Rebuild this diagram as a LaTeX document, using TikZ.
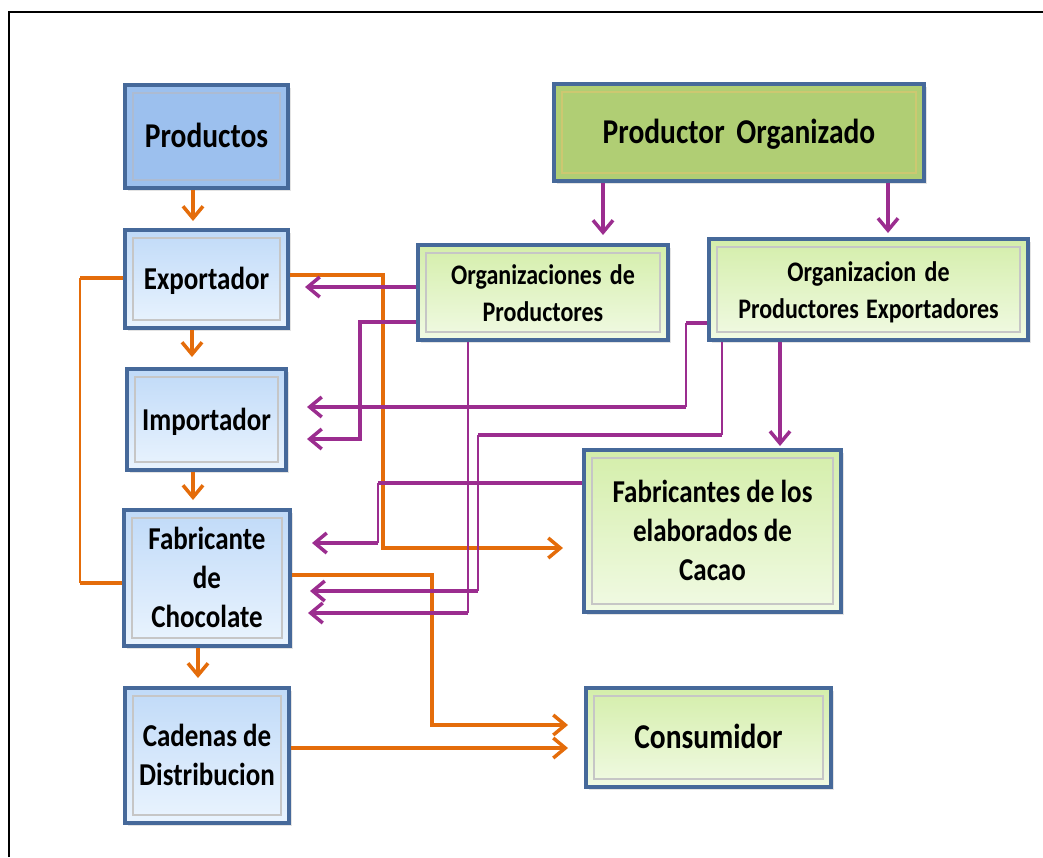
\documentclass[tikz,border=0pt]{standalone}
\usepackage{fontspec}
\setmainfont{Carlito}
\usepackage{graphicx}
\usetikzlibrary{arrows.meta,shadows}

\definecolor{naranja}{HTML}{E46C0A}
\definecolor{morado}{HTML}{9B2D8F}
\definecolor{borde}{HTML}{46699A}
\definecolor{azulprod}{HTML}{9CC0EE}
\definecolor{azulA}{HTML}{C0DAF8}
\definecolor{azulB}{HTML}{EAF4FE}
\definecolor{verdeprod}{HTML}{B0CE74}
\definecolor{verdeA}{HTML}{D4EEAA}
\definecolor{verdeB}{HTML}{F1FAE4}

\newcommand{\fgrande}{\fontsize{29.5}{34}\selectfont\bfseries}
\newcommand{\fmedia}{\fontsize{27}{33}\selectfont\bfseries}
\newcommand{\fchica}{\fontsize{24}{31.5}\selectfont\bfseries}
\newcommand{\estirar}[1]{\raisebox{-3pt}[\height][\depth]{\scalebox{1}[1.18]{\begin{tabular}{@{}c@{}}#1\end{tabular}}}}

\tikzset{
  caja/.style={draw=borde, line width=4pt, inner sep=0pt, align=center,
    drop shadow={opacity=0.22, shadow xshift=3pt, shadow yshift=-3pt},
    path picture={\draw[#1, line width=1.6pt]
      ([shift={(8pt,-8pt)}]path picture bounding box.north west) rectangle
      ([shift={(-8pt,8pt)}]path picture bounding box.south east);}},
  cajaprod/.style={caja=borde!45, fill=azulprod},
  cajaazul/.style={caja=gray!45, top color=azulA, bottom color=azulB},
  cajaporg/.style={caja=olive!45, fill=verdeprod},
  cajaverde/.style={caja=gray!45, top color=verdeA, bottom color=verdeB},
  olin/.style={draw=naranja, line width=3.5pt},
  oarr/.style={olin, -{Straight Barb[length=12pt,width=20pt]}},
  plin/.style={draw=morado, line width=3.5pt},
  pthin/.style={draw=morado, line width=1.6pt},
  parr/.style={plin, -{Straight Barb[length=12pt,width=20pt]}}
}

\begin{document}
\begin{tikzpicture}[x=1pt, y=-1pt]
\useasboundingbox (0,0) rectangle (1043,857);
% marco
\draw[line width=2pt] (9,857) -- (9,12) -- (1043,12);

% cadena de la izquierda
\node[cajaprod, minimum width=163pt, minimum height=103pt, font=\fgrande] (prod) at (206.5,136.5) {\estirar{Productos}};
\node[cajaazul, minimum width=163pt, minimum height=98pt, font=\fmedia] (expo) at (206.5,279) {\estirar{Exportador}};
\node[cajaazul, minimum width=159pt, minimum height=101pt, font=\fmedia] (impo) at (206.5,419.5) {\estirar{Importador}};
\node[cajaazul, minimum width=166pt, minimum height=136pt, font=\fmedia] (fabch) at (207,578) {\estirar{Fabricante\\de\\Chocolate}};
\node[cajaazul, minimum width=164pt, minimum height=135pt, font=\fmedia] (cad) at (207,755.5) {\estirar{Cadenas de\\Distribucion}};

% productores y destinos
\node[cajaporg, minimum width=370pt, minimum height=97pt, font=\fgrande] (porg) at (739,132.5) {\estirar{Productor\hspace{0.4em}Organizado}};
\node[cajaverde, minimum width=250pt, minimum height=95pt, font=\fchica] (orgp) at (543,292.5) {\estirar{Organizaciones\hspace{0.35em}de\\Productores}};
\node[cajaverde, minimum width=319pt, minimum height=101pt, font=\fchica] (orgex) at (868.5,289.5) {\estirar{Organizacion\hspace{0.35em}de\\Productores\hspace{0.3em}Exportadores}};
\node[cajaverde, minimum width=257pt, minimum height=162pt, font=\fmedia] (fabcac) at (712.5,531) {\estirar{Fabricantes de los\\elaborados de\\Cacao}};
\node[cajaverde, minimum width=245pt, minimum height=99pt, font=\fgrande] (cons) at (708.5,737.5) {\estirar{Consumidor}};

% puntos de quiebre
\coordinate (xa) at (193,0);
\coordinate (xb) at (192,0);
\coordinate (xc) at (198,0);
\coordinate (lz1) at (80,278);
\coordinate (lz2) at (80,583);
\coordinate (ea) at (383,275);
\coordinate (eb) at (383,548);
\coordinate (fa) at (432,575);
\coordinate (fb) at (432,725);
\coordinate (ca) at (432,748);
\coordinate (pa) at (603,0);
\coordinate (pb) at (888,0);
\coordinate (pc) at (780,0);
\coordinate (oa) at (400,287);
\coordinate (ob) at (360,322);
\coordinate (oc) at (360,439);
\coordinate (od) at (686,323);
\coordinate (oe) at (686,407);
\coordinate (of) at (468,613);
\coordinate (og) at (722,435);
\coordinate (oh) at (478,435);
\coordinate (oi) at (478,591);
\coordinate (oj) at (378,483);
\coordinate (ok) at (378,543);

% flechas naranjas
\draw[oarr, shorten >=7pt] (prod.south -| xa) -- (expo.north -| xa);
\draw[oarr, shorten >=10pt] (expo.south -| xb) -- (impo.north -| xb);
\draw[oarr, shorten >=8pt] (impo.south -| xa) -- (fabch.north -| xa);
\draw[oarr, shorten >=8pt] (fabch.south -| xc) -- (cad.north -| xc);
\draw[olin] (expo.west |- lz1) -- (lz1);
\draw[olin, line width=2pt] (lz1) -- (lz2);
\draw[olin] (lz2) -- (fabch.west |- lz2);
\draw[oarr, shorten >=19pt] (expo.east |- ea) -- (ea) -- (eb) -- (fabcac.west |- eb);
\draw[oarr, shorten >=16pt] (fabch.east |- fa) -- (fa) -- (fb) -- (cons.west |- fb);
\draw[oarr, shorten >=16pt] (cad.east |- ca) -- (cons.west |- ca);

% flechas moradas
\draw[parr, shorten >=8pt] (porg.south -| pa) -- (orgp.north -| pa);
\draw[parr, shorten >=4pt] (porg.south -| pb) -- (orgex.north -| pb);
\draw[parr, shorten >=15pt] (orgp.west |- oa) -- (expo.east |- oa);
\draw[parr, shorten >=19pt] (orgp.west |- ob) -- (ob) -- (oc) -- (impo.east |- oc);
\draw[plin] (orgex.west |- od) -- (od);
\draw[pthin] (od) -- (oe);
\draw[parr, shorten >=19pt] (oe) -- (impo.east |- oe);
\draw[parr, shorten >=2pt] (orgex.south -| pc) -- (fabcac.north -| pc);
\draw[pthin] (orgp.south -| of) -- (of);
\draw[parr, shorten >=16pt] (of) -- (fabch.east |- of);
\draw[pthin] (orgex.south -| og) -- (og);
\draw[plin] (og) -- (oh);
\draw[pthin] (oh) -- (oi);
\draw[parr, shorten >=18pt] (oi) -- (fabch.east |- oi);
\draw[plin] (fabcac.west |- oj) -- (oj);
\draw[pthin] (oj) -- (ok);
\draw[parr, shorten >=20pt] (ok) -- (fabch.east |- ok);
\end{tikzpicture}
\end{document}
